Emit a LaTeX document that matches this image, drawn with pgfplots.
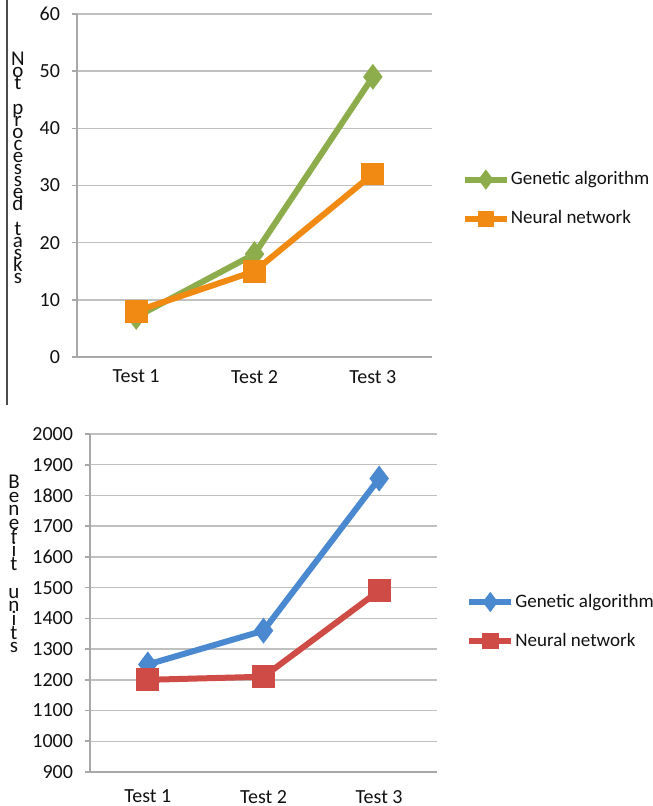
\documentclass[border=0pt]{standalone}
\usepackage{fontspec}
\setmainfont{Carlito}
\usepackage{pgfplots}
\pgfplotsset{compat=1.18}

\definecolor{gaGreen}{HTML}{8DAD4C}
\definecolor{nnOrange}{HTML}{F08A12}
\definecolor{gaBlue}{HTML}{4A89D0}
\definecolor{nnRed}{HTML}{CF4B45}
\definecolor{gridGray}{HTML}{C0C0C0}
\definecolor{axisGray}{HTML}{A8A8A8}
\definecolor{txt}{HTML}{111111}

% vertical stack of letters with a fixed pitch
\newcommand\letterstack[2]{%
  \vbox{\baselineskip=#1\relax\lineskiplimit=-50pt\relax\lineskip=0pt\relax
    \halign{\hfil##\hfil\cr#2\crcr}}}

\pgfplotsset{
  excelchart/.style={
    scale only axis,
    anchor=north west,
    xmin=0.5, xmax=3.5,
    axis x line*=bottom, axis y line*=left,
    axis line style={axisGray, line width=0.8pt, -},
    xtick={1,2,3},
    xticklabels={Test 1,Test 2,Test 3},
    major x tick style={draw=none},
    extra x ticks={0.5,1.5,2.5,3.5},
    extra x tick labels={},
    extra x tick style={tick align=outside, major tick length=2.5pt,
      major tick style={axisGray, line width=0.8pt, draw=axisGray}},
    ymajorgrids,
    major grid style={gridGray, line width=0.7pt},
    ytick align=outside,
    major tick length=2.5pt,
    y tick style={axisGray, line width=0.8pt},
    tick label style={font=\fontsize{10}{12}\selectfont, text=txt},
    /pgf/number format/assume math mode=true,
    /pgf/number format/1000 sep={},
    yticklabel style={xshift=-2.5pt},
    clip=false,
    legend cell align=left,
    legend style={draw=none, fill=none, anchor=west,
      font=\fontsize{9.5}{11}\selectfont, text=txt,
      row sep=7.5pt, nodes={inner xsep=0.5pt}},
    legend image code/.code={
      \draw[mark repeat=2, mark phase=2, #1, mark size=2.6pt]
        plot coordinates {(0pt,0pt) (10.5pt,0pt) (21pt,0pt)};
    },
  },
  series/.style={line width=3pt, mark options={solid}},
}

\begin{document}
\begin{tikzpicture}
\path[use as bounding box] (0pt,0pt) rectangle (326pt,403pt);
% separator line at the left of the upper chart
\draw[gray!60!black, line width=0.6pt] (3.5pt,403pt) -- (3.5pt,200.5pt);

% upper chart: tasks that were not processed
\begin{axis}[excelchart,
  at={(38.5pt,396pt)}, width=177.5pt, height=171.5pt,
  ymin=0, ymax=60, ytick={0,10,...,60},
  xticklabel style={yshift=-3pt},
  legend style={at={(1.066,0.46)}},
]
\addplot[series, gaGreen, mark=diamond*, mark size=4pt] coordinates {(1,7) (2,18) (3,49)};
\addlegendentry{Genetic algorithm}
\addplot[series, nnOrange, mark=square*, mark size=4.2pt] coordinates {(1,8) (2,15) (3,32)};
\addlegendentry{Neural network}
\end{axis}
\node[font=\fontsize{10.5}{12}\selectfont, inner sep=0pt, text=txt] at (9pt,319pt)
  {\letterstack{6.05pt}{N\cr o\cr t\cr \cr p\cr r\cr o\cr c\cr e\cr s\cr s\cr e\cr d\cr \cr t\cr a\cr s\cr k\cr s}};

% lower chart: benefit units
\begin{axis}[excelchart,
  at={(45pt,186pt)}, width=173.5pt, height=169pt,
  ymin=900, ymax=2000, ytick={900,1000,...,2000},
  xticklabel style={yshift=-5.5pt},
  legend style={at={(1.066,0.445)}},
]
\addplot[series, gaBlue, mark=diamond*, mark size=4pt] coordinates {(1,1250) (2,1360) (3,1855)};
\addlegendentry{Genetic algorithm}
\addplot[series, nnRed, mark=square*, mark size=4.2pt] coordinates {(1,1200) (2,1210) (3,1490)};
\addlegendentry{Neural network}
\end{axis}
\node[font=\fontsize{10.5}{12}\selectfont, inner sep=0pt, text=txt] at (7pt,121pt)
  {\letterstack{6.85pt}{B\cr e\cr n\cr e\cr f\cr i\cr t\cr \cr u\cr n\cr i\cr t\cr s}};
\end{tikzpicture}
\end{document}
